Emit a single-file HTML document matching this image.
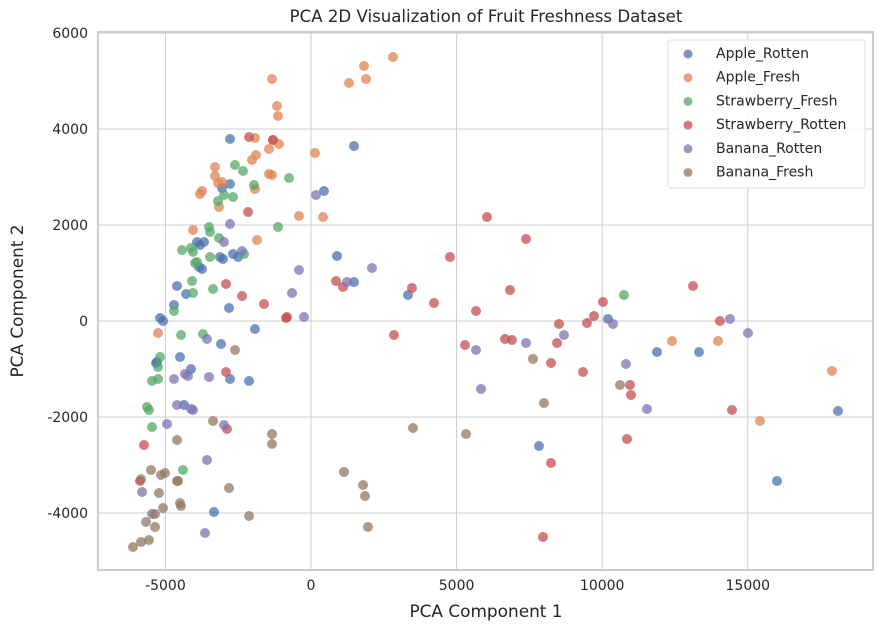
<!DOCTYPE html>
<html><head><meta charset="utf-8">
<style>
html,body{margin:0;padding:0;background:#fff;}
svg{display:block;font-family:"DejaVu Sans","Liberation Sans",sans-serif;}
</style></head>
<body>
<svg id="chart" width="883" height="633" viewBox="0 0 883 633"></svg>
<script>
const seriesNames = ["Apple_Rotten","Apple_Fresh","Strawberry_Fresh","Strawberry_Rotten","Banana_Rotten","Banana_Fresh"];
const xTicks = [-5000,0,5000,10000,15000];
const yTicks = [-4000,-2000,0,2000,4000,6000];
const appleRotten = [[-2782,3791],[1477,3645],[-2782,2854],[-3056,2770],[446,2708],[-3915,1646],[-3812,1583],[-3674,1646],[-3125,1333],[-3022,1291],[-2679,1396],[-2507,1333],[-3846,1125],[-3743,1083],[893,1354],[1477,812],[-4602,729],[-4293,562],[-4705,333],[-2816,271],[-5185,62],[-5082,0],[-1923,-167],[-3091,-479],[-4499,-750],[-5288,-854],[-5323,-875],[-4121,-1000],[-2782,-1208],[-2129,-1250],[-4361,-1750],[-3331,-3979],[3331,542],[10199,42],[11882,-646],[13324,-646],[18097,-1875],[7829,-2604],[16002,-3333]];
const appleFresh = [[-1339,5041],[1820,5312],[1305,4958],[1889,5041],[2816,5499],[-1168,4478],[-1133,4270],[-1923,3812],[-1305,3770],[-1099,3687],[-1442,3583],[-1889,3458],[-2026,3354],[137,3499],[-3297,3208],[-3297,3020],[-3056,2895],[-3194,2875],[-1442,3062],[-1339,3041],[-1923,2750],[-3743,2708],[-3812,2645],[-3159,2375],[-412,2187],[412,2166],[-4052,1896],[-1854,1687],[-5254,-250],[12397,-417],[13976,-417],[15419,-2083],[17891,-1041]];
const strawberryFresh = [[-2610,3250],[-2335,3125],[-755,2979],[-1957,2833],[-2988,2625],[-2679,2583],[-3194,2500],[-3503,1958],[-3468,1854],[-3159,1729],[-1133,1958],[-4430,1479],[-4121,1521],[-4052,1437],[-3468,1333],[-2301,1396],[-3915,1229],[-3983,1208],[-4086,833],[-4052,583],[-3365,667],[-4705,208],[-4464,-292],[-3709,-271],[-5185,-750],[-5254,-958],[-5254,-1208],[-5460,-1250],[-5632,-1791],[-5563,-1854],[-5460,-2208],[-4396,-3104],[-5838,-3291],[10748,542]];
const strawberryRotten = [[-2129,3833],[-1305,3770],[-2163,2270],[-2919,771],[-2369,521],[-1614,354],[-824,83],[-859,62],[-2919,-1062],[-2885,-2250],[-5735,-2583],[-5872,-3333],[858,833],[1099,708],[3468,687],[4224,375],[4773,1333],[6044,2166],[7383,1708],[6834,646],[5666,208],[2850,-292],[5288,-500],[6662,-375],[6902,-396],[8242,-875],[8516,-62],[8448,-458],[9340,-1062],[9478,-42],[9718,104],[10027,396],[10954,-1333],[10989,-1541],[10851,-2458],[8242,-2958],[7967,-4499],[13118,729],[14045,0],[14457,-1854]];
const bananaRotten = [[172,2625],[-2782,2020],[-2988,1646],[-2369,1458],[-412,1062],[2095,1104],[1236,812],[-652,583],[-240,83],[-3571,-375],[-4705,-1208],[-4327,-1104],[-4224,-1146],[-3503,-1166],[-4602,-1750],[-4121,-1833],[-4052,-1854],[-4945,-2145],[-2988,-2166],[-3571,-2895],[-5803,-3562],[-5460,-4020],[-3640,-4416],[5666,-604],[7383,-458],[8688,-292],[10371,-62],[10817,-896],[11538,-1833],[14388,42],[15006,-250],[5838,-1416]];
const bananaFresh = [[-2610,-604],[-3365,-2083],[-4602,-2479],[-1339,-2354],[-1339,-2562],[-5494,-3104],[-5151,-3208],[-5014,-3166],[-4602,-3333],[-4567,-3333],[-2816,-3479],[-5220,-3583],[-4499,-3791],[-4464,-3854],[-5082,-3895],[-2129,-4062],[-5357,-4020],[-5666,-4187],[-5357,-4291],[-5563,-4562],[-5838,-4603],[-6113,-4708],[1133,-3145],[1786,-3416],[1854,-3645],[1957,-4291],[3503,-2229],[5323,-2354],[8001,-1708],[7623,-791],[10611,-1333]];
const seriesData = [appleRotten, appleFresh, strawberryFresh, strawberryRotten, bananaRotten, bananaFresh];
const colors = ["#4C72B0","#DD8452","#55A868","#C44E52","#8172B3","#937860"];

const NS = "http://www.w3.org/2000/svg";
const svg = document.getElementById("chart");
const L = 98, R = 873, T = 32, B = 570;
const xMin = -7315, xMax = 19300, yMin = -5187, yMax = 6020;
function xs(v){ return L + (v - xMin) / (xMax - xMin) * (R - L); }
function ys(v){ return B - (v - yMin) / (yMax - yMin) * (B - T); }
function mk(tag, attrs, parent){ const e = document.createElementNS(NS, tag); for (const k in attrs) e.setAttribute(k, attrs[k]); (parent||svg).appendChild(e); return e; }

const grid = mk("g", {});


xTicks.forEach(t => {
  const x = xs(t);
  const ln = mk("line", {x1:x, x2:x, y1:T, y2:B, stroke:"#cccccc", "stroke-width":1}, grid);
  
  
  const tx = mk("text", {x:x, y:B+20, "text-anchor":"middle", "font-size":"14", fill:"#262626"});
  
  
  tx.textContent = String(t);
});
yTicks.forEach(t => {
  const y = ys(t);
  const ln = mk("line", {x1:L, x2:R, y1:y, y2:y, stroke:"#cccccc", "stroke-width":1}, grid);
  
  
  const tx = mk("text", {x:L-10, y:y+5, "text-anchor":"end", "font-size":"14", fill:"#262626"});
  
  
  tx.textContent = String(t);
});
const frame = mk("rect", {x:L, y:T, width:R-L, height:B-T, fill:"none", stroke:"#cccccc", "stroke-width":2});



seriesData.forEach((pts, i) => {
  const g = mk("g", {});
  
  
  pts.forEach(p => {
    const c = mk("circle", {cx:xs(p[0]), cy:ys(p[1]), r:5, fill:colors[i], "fill-opacity":0.75}, g);
    
    
  });
});

const title = mk("text", {x:486, y:22, "text-anchor":"middle", "font-size":"16.6", fill:"#262626"});


title.textContent = "PCA 2D Visualization of Fruit Freshness Dataset";
const xl = mk("text", {x:486, y:617, "text-anchor":"middle", "font-size":"16.9", fill:"#262626"});


xl.textContent = "PCA Component 1";
const yl = mk("text", {x:0, y:0, "text-anchor":"middle", "font-size":"16.9", fill:"#262626", transform:"translate(23,301) rotate(-90)"});


yl.textContent = "PCA Component 2";

const lg = mk("g", {});


const lb = mk("rect", {x:668, y:40, width:197, height:148, rx:3, fill:"#ffffff", "fill-opacity":0.85, stroke:"#dddddd", "stroke-width":1}, lg);


seriesNames.forEach((n, i) => {
  const y = 53 + i * 23.7;
  const e = mk("g", {}, lg);
  
  
  mk("circle", {cx:688, cy:y+1, r:4.5, fill:colors[i], "fill-opacity":0.75}, e);
  const t = mk("text", {x:716, y:y+5, "font-size":"14", fill:"#262626"}, e);
  t.textContent = n;
});
</script>
</body></html>
